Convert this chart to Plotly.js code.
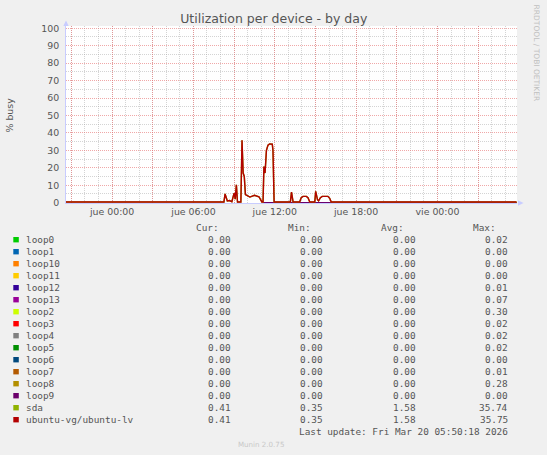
<!DOCTYPE html>
<html>
<head>
<meta charset="utf-8">
<script src="https://cdn.plot.ly/plotly-3.0.1.min.js"></script>
<style>
  html, body { margin: 0; padding: 0; background: #f0f0f0; }
  #chart { width: 547px; height: 455px; }
</style>
</head>
<body>
<div id="chart"></div>
<script>
// ubuntu-vg/ubuntu-lv busy %
var lvTimes = ['2026-03-18 20:36', '2026-03-19 08:15', '2026-03-19 08:20', '2026-03-19 08:30',
  '2026-03-19 08:40', '2026-03-19 08:50', '2026-03-19 09:00', '2026-03-19 09:05', '2026-03-19 09:10',
  '2026-03-19 09:15', '2026-03-19 09:30', '2026-03-19 09:35', '2026-03-19 09:40', '2026-03-19 09:45',
  '2026-03-19 09:50', '2026-03-19 10:10', '2026-03-19 10:30', '2026-03-19 10:50', '2026-03-19 11:03',
  '2026-03-19 11:08', '2026-03-19 11:12', '2026-03-19 11:17', '2026-03-19 11:23', '2026-03-19 11:30',
  '2026-03-19 11:37', '2026-03-19 11:49', '2026-03-19 11:52', '2026-03-19 11:57', '2026-03-19 13:09',
  '2026-03-19 13:14', '2026-03-19 13:21', '2026-03-19 13:50', '2026-03-19 13:57', '2026-03-19 14:05',
  '2026-03-19 14:20', '2026-03-19 14:27', '2026-03-19 14:35', '2026-03-19 14:57', '2026-03-19 15:01',
  '2026-03-19 15:09', '2026-03-19 15:14', '2026-03-19 15:22', '2026-03-19 15:30', '2026-03-19 15:55',
  '2026-03-19 16:03', '2026-03-19 16:10', '2026-03-20 05:50'];
var lvValues = [0.4, 0.4, 5.0, 1.0,
  1.2, 0.5, 5.5, 2.0, 10.3,
  0.4, 0.4, 35.75, 17.0, 15.0,
  4.6, 3.2, 4.2, 3.4, 0.4,
  0.4, 20.7, 17.0, 30.0, 33.0,
  33.7, 33.5, 30.0, 0.4, 0.4,
  6.0, 0.4, 0.4, 2.8, 3.6,
  3.6, 2.8, 0.4, 0.4, 6.5,
  1.7, 1.0, 2.8, 3.6, 3.6,
  2.5, 0.4, 0.41];
var sdaValues = [0.4, 0.4, 5.0, 1.0,
  1.2, 0.5, 5.5, 2.0, 10.3,
  0.4, 0.4, 35.74, 17.0, 15.0,
  4.6, 3.2, 4.2, 3.4, 0.4,
  0.4, 20.7, 17.0, 30.0, 33.0,
  33.7, 33.5, 30.0, 0.4, 0.4,
  6.0, 0.4, 0.4, 2.8, 3.6,
  3.6, 2.8, 0.4, 0.4, 6.5,
  1.7, 1.0, 2.8, 3.6, 3.6,
  2.5, 0.4, 0.41];

// loop devices only report from late morning on, flat at zero
var loopTimes = ['2026-03-19 11:08', '2026-03-19 11:18', '2026-03-19 11:22', '2026-03-19 11:26', '2026-03-20 05:50'];
var loopValues = [0, 0, 0, 0, 0];
var loop2Values = [0, 0, 0.3, 0, 0];

var deviceNames = ['loop0', 'loop1', 'loop10', 'loop11', 'loop12', 'loop13', 'loop2', 'loop3',
  'loop4', 'loop5', 'loop6', 'loop7', 'loop8', 'loop9', 'sda', 'ubuntu-vg/ubuntu-lv'];
var deviceColors = ['#00CC00', '#0066B3', '#FF8000', '#FFCC00', '#330099', '#990099', '#CCFF00', '#FF0000',
  '#808080', '#008F00', '#00487D', '#B35A00', '#B38F00', '#6B006B', '#8FB300', '#B30000'];
var curValues = [0, 0, 0, 0, 0, 0, 0, 0, 0, 0, 0, 0, 0, 0, 0.41, 0.41];
var minValues = [0, 0, 0, 0, 0, 0, 0, 0, 0, 0, 0, 0, 0, 0, 0.35, 0.35];
var avgValues = [0, 0, 0, 0, 0, 0, 0, 0, 0, 0, 0, 0, 0, 0, 1.58, 1.58];
var maxValues = [0.02, 0, 0, 0, 0.01, 0.07, 0.30, 0.02, 0.02, 0.02, 0, 0.01, 0.28, 0, 35.74, 35.75];

var xTickVals = ['2026-03-18 21:00', '2026-03-19 00:00', '2026-03-19 03:00', '2026-03-19 06:00',
  '2026-03-19 09:00', '2026-03-19 12:00', '2026-03-19 15:00', '2026-03-19 18:00',
  '2026-03-19 21:00', '2026-03-20 00:00', '2026-03-20 03:00'];
var xTickText = ['', 'jue 00:00', '', 'jue 06:00', '', 'jue 12:00', '', 'jue 18:00', '', 'vie 00:00', ''];

// plot box in pixels
var L = 66, R = 517, T = 26, B = 203;
function px(x) { return (x - L) / (R - L); }
function py(y) { return (B - y) / (B - T); }

var data = [];
for (var i = 0; i < 14; i++) {
  data.push({
    type: 'scatter',
    mode: 'lines',
    x: loopTimes,
    y: deviceNames[i] == 'loop2' ? loop2Values : loopValues,
    name: deviceNames[i],
    line: { color: deviceColors[i], width: 1.2 },
    hoverinfo: 'skip'
  });
}
data.push({
  type: 'scatter', mode: 'lines', x: lvTimes, y: sdaValues, name: 'sda',
  line: { color: deviceColors[14], width: 1.4 }, hoverinfo: 'skip'
});
data.push({
  type: 'scatter', mode: 'lines', x: lvTimes, y: lvValues, name: 'ubuntu-vg/ubuntu-lv',
  line: { color: deviceColors[15], width: 1.4 }, hoverinfo: 'skip'
});

var mono = 'DejaVu Sans Mono';
var textColor = '#555';
var annotations = [];
var shapes = [];

function note(text, x, y, anchor, font) {
  annotations.push({
    xref: 'paper', yref: 'paper', x: px(x), y: py(y),
    xanchor: anchor, yanchor: 'middle', text: text, showarrow: false,
    borderpad: 0, font: font
  });
}

var legFont = { family: mono, size: 9.4, color: textColor };
note('Cur:', 220, 227.3, 'right', legFont);
note('Min:', 312.3, 227.3, 'right', legFont);
note('Avg:', 405, 227.3, 'right', legFont);
note('Max:', 497.3, 227.3, 'right', legFont);

for (var j = 0; j < deviceNames.length; j++) {
  var rowY = 239.7 + 12 * j;
  shapes.push({
    type: 'rect', xref: 'paper', yref: 'paper',
    x0: px(13.3), x1: px(18.8), y0: py(rowY + 2.7), y1: py(rowY - 2.7),
    fillcolor: deviceColors[j], line: { width: 0 }
  });
  note(deviceNames[j], 25.3, rowY, 'left', legFont);
  note(curValues[j].toFixed(2), 231.7, rowY, 'right', legFont);
  note(minValues[j].toFixed(2), 324, rowY, 'right', legFont);
  note(avgValues[j].toFixed(2), 416.7, rowY, 'right', legFont);
  note(maxValues[j].toFixed(2), 509.3, rowY, 'right', legFont);
}
note('Last update: Fri Mar 20 05:50:18 2026', 509.3, 431.3, 'right', legFont);
note('Munin 2.0.75', 260.7, 444, 'center', { family: 'DejaVu Sans', size: 7.1, color: '#c8c8c8' });
note('% busy', 9.5, 115, 'center', { family: 'DejaVu Sans', size: 9.4, color: textColor });
annotations[annotations.length - 1].textangle = -90;
note('RRDTOOL / TOBI OETIKER', 536.7, 53.3, 'center', { family: 'DejaVu Sans', size: 7.5, color: '#c0c0c0' });
annotations[annotations.length - 1].textangle = 90;

// axis arrows
var axisColor = '#c8ccff';
shapes.push({
  type: 'path', xref: 'paper', yref: 'paper',
  path: 'M ' + px(63.3) + ' ' + py(26) + ' L ' + px(68.7) + ' ' + py(26) + ' L ' + px(66) + ' ' + py(20.5) + ' Z',
  fillcolor: axisColor, line: { width: 0 }
});
shapes.push({
  type: 'path', xref: 'paper', yref: 'paper',
  path: 'M ' + px(518) + ' ' + py(200.3) + ' L ' + px(518) + ' ' + py(205.7) + ' L ' + px(523.5) + ' ' + py(203) + ' Z',
  fillcolor: axisColor, line: { width: 0 }
});

var majorGrid = 'rgba(230,110,110,0.6)';
var minorGrid = 'rgba(160,160,160,0.45)';
var fineDots = '1px,1px';

var layout = {
  width: 547,
  height: 455,
  paper_bgcolor: '#f0f0f0',
  plot_bgcolor: '#ffffff',
  showlegend: false,
  margin: { l: L, r: 547 - R, t: T, b: 455 - B, pad: 0 },
  title: {
    text: 'Utilization per device - by day',
    font: { family: 'DejaVu Sans', size: 12.5, color: textColor },
    x: px(273.8), xref: 'paper', xanchor: 'center',
    y: 1 - 19 / 455, yanchor: 'middle'
  },
  font: { family: 'DejaVu Sans', size: 9.4, color: textColor },
  xaxis: {
    type: 'date',
    range: ['2026-03-18 20:36', '2026-03-20 05:52'],
    tickmode: 'array',
    tickvals: xTickVals,
    ticktext: xTickText,
    ticks: '',
    showgrid: true,
    gridcolor: majorGrid,
    griddash: fineDots,
    gridwidth: 1,
    minor: {
      dtick: 3600000,
      tick0: '2026-03-19 00:00',
      showgrid: true,
      gridcolor: minorGrid,
      griddash: fineDots,
      gridwidth: 1
    },
    showline: true,
    linecolor: axisColor,
    linewidth: 1,
    zeroline: false,
    fixedrange: true,
    tickfont: { family: 'DejaVu Sans', size: 9.4, color: textColor }
  },
  yaxis: {
    range: [-0.2, 101.3],
    tickmode: 'linear',
    tick0: 0,
    dtick: 10,
    ticks: 'outside',
    ticklen: 4,
    tickcolor: 'rgba(0,0,0,0)',
    showgrid: true,
    gridcolor: majorGrid,
    griddash: fineDots,
    gridwidth: 1,
    minor: {
      dtick: 5,
      showgrid: true,
      gridcolor: minorGrid,
      griddash: fineDots,
      gridwidth: 1
    },
    showline: true,
    linecolor: axisColor,
    linewidth: 1,
    zeroline: false,
    fixedrange: true,
    tickfont: { family: 'DejaVu Sans', size: 9.4, color: textColor }
  },
  annotations: annotations,
  shapes: shapes
};

Plotly.newPlot('chart', data, layout, { displayModeBar: false, staticPlot: true });
</script>
</body>
</html>
